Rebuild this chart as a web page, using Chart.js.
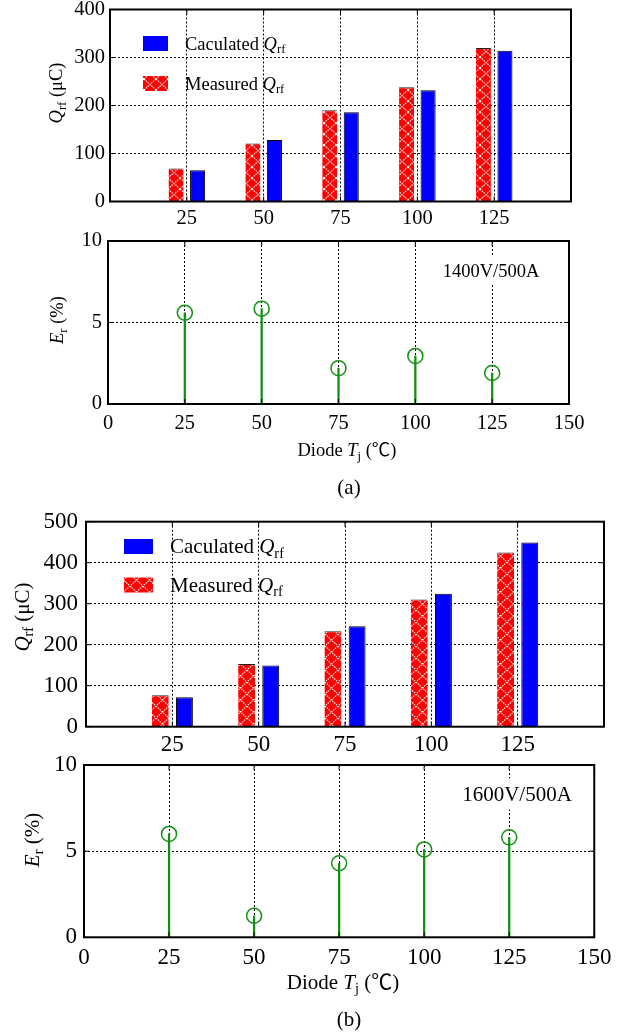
<!DOCTYPE html>
<html>
<head>
<meta charset="utf-8">
<script src="https://cdn.jsdelivr.net/npm/chart.js@4/dist/chart.umd.min.js"></script>
<style>
html, body { margin: 0; padding: 0; background: #fff; }
body { position: relative; width: 618px; height: 1035px; overflow: hidden; }
canvas { position: absolute; left: 0; }
</style>
</head>
<body>
<canvas id="qrfA"></canvas>
<canvas id="errA"></canvas>
<canvas id="qrfB"></canvas>
<canvas id="errB"></canvas>
<script>
// diode junction temperature, deg C
var temps = [25, 50, 75, 100, 125];

// (a) 1400V/500A
var measuredA   = [69, 121, 190, 238, 320];
var calculatedA = [65, 128, 186, 232, 314];
var errorA      = [5.6, 5.85, 2.2, 2.95, 1.9];

// (b) 1600V/500A
var measuredB   = [77, 153, 233, 310, 425];
var calculatedB = [72, 149, 245, 324, 449];
var errorB      = [6.0, 1.25, 4.3, 5.1, 5.8];

var SERIF = "'Liberation Serif', 'Times New Roman', 'Noto Sans CJK SC', serif";
var GREEN = '#119011';

var pts = (ys) => temps.map((t, i) => ({ x: t, y: ys[i] }));

hatch = (ctx, w, h) => {
    var c = document.createElement('canvas');
    c.width = w; c.height = h;
    var g = c.getContext('2d');
    g.fillStyle = '#ff0000';
    g.fillRect(0, 0, w, h);
    g.strokeStyle = '#ffffff';
    g.lineWidth = 1.1;
    g.setLineDash([1.5, 1]);
    g.beginPath();
    g.moveTo(0, 0); g.lineTo(w, h);
    g.moveTo(w, 0); g.lineTo(0, h);
    g.stroke();
    return ctx.createPattern(c, 'repeat');
}

// rich text: parts are [text, style], style '' | 'i' (italic) | 's' (subscript)
partFont = (p, size) => {
    if (p[1] === 'i') return 'italic ' + size + 'px ' + SERIF;
    if (p[1] === 's') return (size * 0.68).toFixed(1) + 'px ' + SERIF;
    return size + 'px ' + SERIF;
}

drawRich = (ctx, parts, x, cy, size, align) => {
    var w = 0;
    parts.forEach(p => { ctx.font = partFont(p, size); w += ctx.measureText(p[0]).width; });
    var cx = align === 'center' ? x - w / 2 : x;
    var base = cy + size * 0.33;
    ctx.textBaseline = 'alphabetic';
    ctx.textAlign = 'left';
    ctx.fillStyle = '#000';
    parts.forEach(p => {
        ctx.font = partFont(p, size);
        ctx.fillText(p[0], cx, base + (p[1] === 's' ? size * 0.2 : 0));
        cx += ctx.measureText(p[0]).width;
    });
    return w;
}

var QRF = [['Q', 'i'], ['rf', 's'], [' (\u03bcC)', '']];
var ERR = [['E', 'i'], ['r', 's'], [' (%)', '']];
var DIODE = [['Diode ', ''], ['T', 'i'], ['j', 's'], [' (\u2103)', '']];

var decor = {
    id: 'decor',
    afterDraw(chart, args, o) {
        var ctx = chart.ctx, a = chart.chartArea, y0 = o.y0;
        ctx.save();

        if (o.note) {
            ctx.font = o.size + 'px ' + SERIF;
            var nw = ctx.measureText(o.note.text).width;
            ctx.fillStyle = '#fff';
            ctx.fillRect(o.note.x - nw / 2 - 3, o.note.y - y0 - o.size * 0.75, nw + 6, o.size * 1.5);
            drawRich(ctx, [[o.note.text, '']], o.note.x, o.note.y - y0, o.size, 'center');
        }

        // box and inward ticks
        ctx.strokeStyle = '#000';
        ctx.lineWidth = 1;
        ctx.setLineDash([]);
        ctx.beginPath();
        chart.scales.y.ticks.forEach(t => {
            var py = chart.scales.y.getPixelForValue(t.value);
            ctx.moveTo(a.left, py); ctx.lineTo(a.left + 5, py);
            ctx.moveTo(a.right, py); ctx.lineTo(a.right - 5, py);
        });
        chart.scales.x.ticks.forEach(t => {
            var px = chart.scales.x.getPixelForValue(t.value);
            ctx.moveTo(px, a.bottom); ctx.lineTo(px, a.bottom - 5);
            ctx.moveTo(px, a.top); ctx.lineTo(px, a.top + 5);
        });
        ctx.stroke();
        ctx.lineWidth = 2;
        ctx.strokeRect(a.left, a.top, a.right - a.left, a.bottom - a.top);

        if (o.legend) {
            var L = o.legend, ds = chart.data.datasets;
            [1, 0].forEach((di, row) => {
                var d = ds[di];
                var by = L.top[row] - y0;
                ctx.fillStyle = d.backgroundColor;
                ctx.fillRect(L.boxX, by, L.boxW, L.boxH);
                drawRich(ctx, [[d.label + ' ', ''], ['Q', 'i'], ['rf', 's']], L.textX, by + L.boxH / 2, o.size, 'left');
            });
        }

        if (o.yTitle) {
            ctx.save();
            ctx.translate(o.yTitle.x, o.yTitle.y - y0);
            ctx.rotate(-Math.PI / 2);
            drawRich(ctx, o.yTitle.parts, 0, 0, o.size, 'center');
            ctx.restore();
        }
        if (o.xTitle) drawRich(ctx, DIODE, o.xTitle.x, o.xTitle.y - y0, o.size, 'center');
        if (o.caption) drawRich(ctx, [[o.caption.text, '']], o.caption.x, o.caption.y - y0, o.capSize, 'center');

        ctx.restore();
    }
};

xScale = (p, hideEnds) => ({
    type: 'linear', min: 0, max: 150, offset: false,
    ticks: {
        stepSize: 25, color: '#000', padding: p.xPad,
        font: { family: SERIF, size: p.tick },
        callback: v => (hideEnds && (v === 0 || v === 150)) ? '' : v
    },
    grid: { color: '#000', lineWidth: 1, drawTicks: false, offset: false },
    border: { display: false, dash: [2, 2] },
    afterFit: s => { s.height = p.xH; }
});

yScale = (p, max, step) => ({
    min: 0, max: max,
    ticks: {
        stepSize: step, color: '#000', padding: p.yPad,
        font: { family: SERIF, size: p.tick }
    },
    grid: { color: '#000', lineWidth: 1, drawTicks: false },
    border: { display: false, dash: [2, 2] },
    afterFit: s => { s.width = 60; }
});

setup = (id, p) => {
    var el = document.getElementById(id);
    el.width = 618; el.height = p.h;
    el.style.top = p.y0 + 'px';
    return el;
}

padding = (p) => ({
    left: p.box.left - 60,
    right: 618 - p.box.right,
    top: p.box.top - p.y0,
    bottom: p.y0 + p.h - p.box.bottom - p.xH
});

drawQrfChart = (id, measured, calculated, yMax, p) => {
    var el = setup(id, p);
    var ctx = el.getContext('2d');
    new Chart(el, {
        type: 'bar',
        data: {
            datasets: [{
                label: 'Measured',
                data: pts(measured),
                backgroundColor: hatch(ctx, p.hatch[0], p.hatch[1]),
                borderColor: '#222',
                borderWidth: { top: 1, left: 0, right: 0, bottom: 0 }
            }, {
                label: 'Caculated',
                data: pts(calculated),
                backgroundColor: '#0000ff',
                borderColor: '#000',
                borderWidth: 1
            }]
        },
        options: {
            responsive: false,
            animation: false,
            categoryPercentage: 0.56,
            barPercentage: 0.7,
            layout: { padding: padding(p) },
            scales: { x: xScale(p, true), y: yScale(p, yMax, 100) },
            plugins: {
                legend: { display: false },
                tooltip: { enabled: false },
                decor: { y0: p.y0, size: p.text, legend: p.legend, yTitle: { parts: QRF, x: p.yTitle[0], y: p.yTitle[1] } }
            }
        },
        plugins: [decor]
    });
}

drawErrChart = (id, errors, p) => {
    var el = setup(id, p);
    new Chart(el, {
        type: 'scatter',
        data: {
            datasets: [{
                type: 'scatter',
                data: pts(errors),
                pointStyle: 'circle',
                pointRadius: 7.5,
                pointBorderWidth: 1.5,
                pointBorderColor: GREEN,
                pointBackgroundColor: 'rgba(0,0,0,0)',
                showLine: false
            }, {
                type: 'bar',
                data: pts(errors),
                barThickness: 1.6,
                backgroundColor: GREEN,
                borderWidth: 0
            }]
        },
        options: {
            responsive: false,
            animation: false,
            layout: { padding: padding(p) },
            scales: { x: xScale(p, false), y: yScale(p, 10, 5) },
            plugins: {
                legend: { display: false },
                tooltip: { enabled: false },
                decor: {
                    y0: p.y0, size: p.text, capSize: p.cap,
                    note: p.note,
                    yTitle: { parts: ERR, x: p.yTitle[0], y: p.yTitle[1] },
                    xTitle: { x: p.xTitle[0], y: p.xTitle[1] },
                    caption: p.caption
                }
            }
        },
        plugins: [decor]
    });
}

(function () {
    drawQrfChart('qrfA', measuredA, calculatedA, 400, {
        y0: -20, h: 252, xH: 28, xPad: 5, yPad: 5, tick: 20.5, text: 18.5, hatch: [12, 11],
        box: { left: 110, right: 571, top: 9.5, bottom: 201.5 },
        legend: { boxX: 143, boxW: 25, boxH: 15, textX: 185, top: [36, 76] },
        yTitle: [56, 93]
    });
    drawErrChart('errA', errorA, {
        y0: 215, h: 285, xH: 30, xPad: 7.5, yPad: 6, tick: 20.5, text: 18.5, cap: 21,
        box: { left: 108, right: 569, top: 241, bottom: 404 },
        note: { text: '1400V/500A', x: 491, y: 271 },
        yTitle: [57, 320], xTitle: [347, 450],
        caption: { text: '(a)', x: 349, y: 487 }
    });
    drawQrfChart('qrfB', measuredB, calculatedB, 500, {
        y0: 490, h: 275, xH: 30, xPad: 4.5, yPad: 8, tick: 23, text: 21, hatch: [13, 12],
        box: { left: 86, right: 604, top: 521.7, bottom: 726.7 },
        legend: { boxX: 124, boxW: 29, boxH: 15, textX: 170, top: [539, 577.5] },
        yTitle: [22, 617]
    });
    drawErrChart('errB', errorB, {
        y0: 740, h: 295, xH: 30, xPad: 6.5, yPad: 7, tick: 23, text: 21, cap: 21,
        box: { left: 84, right: 601, top: 765, bottom: 937.3 },
        note: { text: '1600V/500A', x: 517, y: 794 },
        yTitle: [32, 840], xTitle: [343, 982],
        caption: { text: '(b)', x: 349, y: 1019 }
    });
}());
</script>
</body>
</html>
